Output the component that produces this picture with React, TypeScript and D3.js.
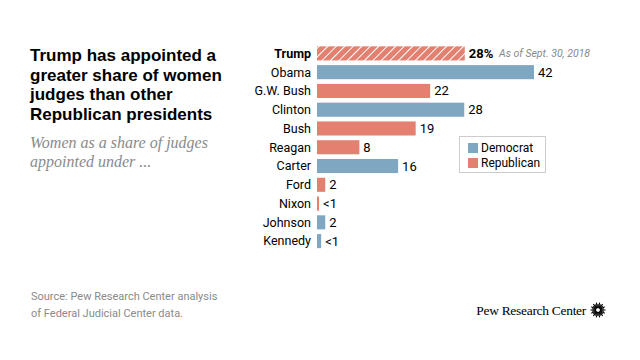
import React from "react";
import * as d3 from "d3";

const presidents = ["Trump", "Obama", "G.W. Bush", "Clinton", "Bush", "Reagan", "Carter", "Ford", "Nixon", "Johnson", "Kennedy"];
const shares = [28.6, 42, 21.9, 28.5, 19.1, 8.2, 15.7, 1.6, 0.4, 1.6, 0.8];
const shareLabels = ["28%", "42", "22", "28", "19", "8", "16", "2", "<1", "2", "<1"];
const parties = ["Republican", "Democrat", "Republican", "Democrat", "Republican", "Republican", "Democrat", "Republican", "Republican", "Democrat", "Democrat"];
const legendItems = ["Democrat", "Republican"];
const titleLines = ["Trump has appointed a", "greater share of women", "judges than other", "Republican presidents"];
const subtitleLines = ["Women as a share of judges", "appointed under ..."];
const sourceLines = ["Source: Pew Research Center analysis", "of Federal Judicial Center data."];
const note = "As of Sept. 30, 2018";

const colors: Record<string, string> = { Democrat: "#7fa7c2", Republican: "#e4806f" };

export default function App() {
  const x = d3.scaleLinear().domain([0, 42]).range([317, 534]);
  const y = d3.scaleBand<string>().domain(presidents).range([44, 250.5]).paddingInner(0.25).paddingOuter(0.125);
  const bw = y.bandwidth();
  const sans = "Roboto, 'Liberation Sans', Arial, sans-serif";
  const rays = d3.range(28).map((i) => (i / 28) * Math.PI * 2);
  const lx = 598, ly = 310;
  return (
    <svg width={640} height={360} style={{ position: "absolute", left: 0, top: 0, background: "#fff" }}>
      <defs>
        <pattern id="hatch" patternUnits="userSpaceOnUse" width={6} height={6} patternTransform="rotate(45)">
          <rect width={6} height={6} fill={colors.Republican} />
          <line x1={0} y1={0} x2={0} y2={6} stroke="#fff" strokeWidth={2} />
        </pattern>
      </defs>
      <rect width={640} height={360} fill="#fff" />
      {titleLines.map((t, i) => (
        <text key={t} x={30} y={61 + i * 19.7} fontFamily="'Liberation Sans', Arial, sans-serif" fontWeight="bold" fontSize={17} fill="#000">{t}</text>
      ))}
      {subtitleLines.map((t, i) => (
        <text key={t} x={30} y={148 + i * 19} fontFamily="'Liberation Serif', serif" fontStyle="italic" fontSize={16} fill="#8a8a8a">{t}</text>
      ))}
      {presidents.map((p, i) => {
        const yy = y(p)!;
        const cy = yy + bw / 2;
        const xe = x(shares[i]);
        return (
          <g key={p}>
            <text x={311} y={cy} dy="0.35em" textAnchor="end" fontFamily={sans} fontSize={12.5} fontWeight={i === 0 ? "bold" : "normal"} fill="#000">{p}</text>
            <rect x={x(0)} y={yy} width={xe - x(0)} height={bw} fill={i === 0 ? "url(#hatch)" : colors[parties[i]]} />
            <text x={xe + 4} y={cy} dy="0.35em" fontFamily={sans} fontSize={13} fontWeight={i === 0 ? "bold" : "normal"} fill="#000">{shareLabels[i]}</text>
            {i === 0 && (
              <text x={499} y={cy} dy="0.35em" fontFamily={sans} fontStyle="italic" fontSize={10.5} fill="#888">{note}</text>
            )}
          </g>
        );
      })}
      <rect x={459.5} y={136.5} width={86} height={36} fill="#fff" stroke="#ccc" strokeWidth={1} />
      {legendItems.map((l, i) => (
        <g key={l}>
          <rect x={468} y={143 + i * 15} width={10} height={10} fill={colors[l]} />
          <text x={481} y={148 + i * 15} dy="0.35em" fontFamily={sans} fontSize={12} fill="#000">{l}</text>
        </g>
      ))}
      {sourceLines.map((t, i) => (
        <text key={t} x={31} y={300 + i * 17} fontFamily={sans} fontSize={11} fill="#8a8a8a">{t}</text>
      ))}
      <text x={586} y={315} textAnchor="end" fontFamily="'Liberation Serif', serif" fontSize={13.5} fill="#000" letterSpacing={-0.3}>Pew Research Center</text>
      <g>
        {rays.map((a, i) => (
          <line key={i} x1={lx + Math.cos(a) * 2} y1={ly + Math.sin(a) * 2} x2={lx + Math.cos(a) * (i % 2 ? 6 : 7.5)} y2={ly + Math.sin(a) * (i % 2 ? 6 : 7.5)} stroke="#000" strokeWidth={1.1} />
        ))}
      </g>
    </svg>
  );
}
